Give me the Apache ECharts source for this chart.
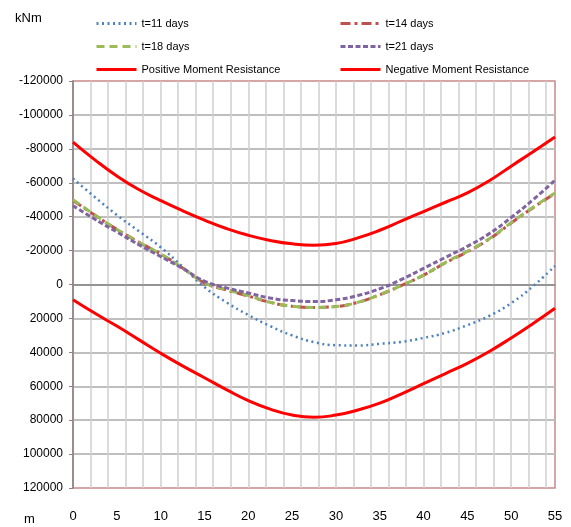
<!DOCTYPE html>
<html>
<head>
<meta charset="utf-8">
<script src="https://cdn.jsdelivr.net/npm/echarts@6/dist/echarts.min.js"></script>
<style>html,body{margin:0;padding:0;background:#fff}#c{width:571px;height:527px}</style>
</head>
<body>
<div id="c"></div>
<script>
var xs = [0,2.5,5,7.5,10,12.5,15,17.5,20,22.5,25,27.5,30,32.5,35,37.5,40,42.5,45,47.5,50,52.5,55];
var t11 = [-62500,-51500,-41000,-31500,-22000,-10500,1500,10500,18000,24500,30000,34000,35800,36000,35000,33800,31500,28500,24000,18500,11000,1000,-11000];
var t14 = [-49500,-40800,-32500,-25000,-18000,-9800,-1000,3200,6800,10500,12800,13500,13000,10500,6000,500,-5500,-12800,-19300,-26800,-36300,-45300,-53800];
var t18 = [-50000,-41000,-32500,-25000,-18000,-9800,-1000,3000,6500,10500,12800,13500,13000,10500,6000,500,-5500,-13000,-19500,-27000,-36500,-45500,-54000];
var t21 = [-46500,-38500,-31000,-23500,-16500,-9500,-2000,2000,5000,8000,9500,10000,9000,6500,2500,-3000,-9500,-16000,-22500,-30000,-39500,-50000,-61500];
var posRes = [-84000,-73500,-64000,-56000,-49500,-43500,-38000,-33000,-29000,-26000,-24000,-23200,-24200,-27500,-32000,-37500,-43000,-48500,-54000,-61200,-69800,-78300,-87000];
var negRes = [9000,17000,24500,32500,40500,48000,55000,62000,68500,73500,77000,78300,77000,74000,70000,64500,58500,52500,46500,39500,31500,23000,14000];
var yTicks = {min:-120000, max:120000, step:20000};
var xTicks = {min:0, max:55, step:5, gridStep:2};
var names = ['t=11 days','t=14 days','t=18 days','t=21 days','Positive Moment Resistance','Negative Moment Resistance'];

function pairs(ys){ return xs.map(function(x,i){ return [x, ys[i]]; }); }
var FONT = '"Liberation Sans Narrow","Liberation Sans",sans-serif';

var legendCommon = {orient:'vertical',top:13,itemWidth:40,itemHeight:12,itemGap:12,
  itemStyle:{opacity:0},lineStyle:{width:3},
  textStyle:{fontFamily:FONT,fontSize:11,color:'#000',padding:[0,0,0,0]}};

var chart = echarts.init(document.getElementById('c'));
chart.setOption({
  animation:false,
  backgroundColor:'#fff',
  textStyle:{fontFamily:FONT},
  grid:{left:73,right:16,top:81,bottom:39,show:true,borderColor:'#C98888',borderWidth:1.5,backgroundColor:'transparent'},
  legend:[
    Object.assign({data:[names[0],names[2],names[4]],left:90}, legendCommon),
    Object.assign({data:[names[1],names[3],names[5]],left:334}, legendCommon)
  ],
  graphic:[
    {type:'text',left:15,top:12,style:{text:'kNm',font:'13px '+FONT,fill:'#000'}},
    {type:'text',left:24,top:513,style:{text:'m',font:'13px '+FONT,fill:'#000'}}
  ],
  xAxis:[
    {type:'value',min:xTicks.min,max:xTicks.max,interval:xTicks.step,position:'bottom',
     axisLine:{show:false,onZero:false},axisTick:{show:false},splitLine:{show:false},
     axisLabel:{margin:22,fontSize:13,color:'#000',fontFamily:FONT}},
    {type:'value',min:xTicks.min,max:xTicks.max,interval:xTicks.gridStep,position:'top',
     axisLine:{show:true,onZero:true,lineStyle:{color:'#868686',width:1.5}},axisTick:{show:false},axisLabel:{show:false},
     splitLine:{show:true,showMinLine:false,showMaxLine:false,lineStyle:{color:'#CFCFCF',width:1.5}}}
  ],
  yAxis:{type:'value',inverse:true,min:yTicks.min,max:yTicks.max,interval:yTicks.step,
    axisLine:{show:true,lineStyle:{color:'#868686',width:1.5}},
    axisTick:{show:true,length:4,lineStyle:{color:'#868686'}},
    axisLabel:{margin:10,fontSize:12,color:'#000',fontFamily:FONT,formatter:function(v){return String(v);}},
    splitLine:{show:true,showMinLine:false,showMaxLine:false,lineStyle:{color:'#BFBFBF',width:2}}},
  series:[
    {name:names[0],type:'line',smooth:true,symbol:'none',data:pairs(t11),color:'#4F81BD',
     lineStyle:{width:2.5,type:[2,3.5],color:'#4F81BD'},z:3},
    {name:names[1],type:'line',smooth:true,symbol:'none',data:pairs(t14),color:'#C0504D',
     lineStyle:{width:3,type:[10,4,3,4],color:'#C0504D'},z:3},
    {name:names[2],type:'line',smooth:true,symbol:'none',data:pairs(t18),color:'#9BBB59',
     lineStyle:{width:3,type:[8,5],color:'#9BBB59'},z:4},
    {name:names[3],type:'line',smooth:true,symbol:'none',data:pairs(t21),color:'#8064A2',
     lineStyle:{width:3,type:[5,2.5],color:'#8064A2'},z:4},
    {name:names[4],type:'line',smooth:true,symbol:'none',data:pairs(posRes),color:'#FF0000',
     lineStyle:{width:3,color:'#FF0000'},z:5},
    {name:names[5],type:'line',smooth:true,symbol:'none',data:pairs(negRes),color:'#FF0000',
     lineStyle:{width:3,color:'#FF0000'},z:5}
  ]
});
</script>
</body>
</html>
